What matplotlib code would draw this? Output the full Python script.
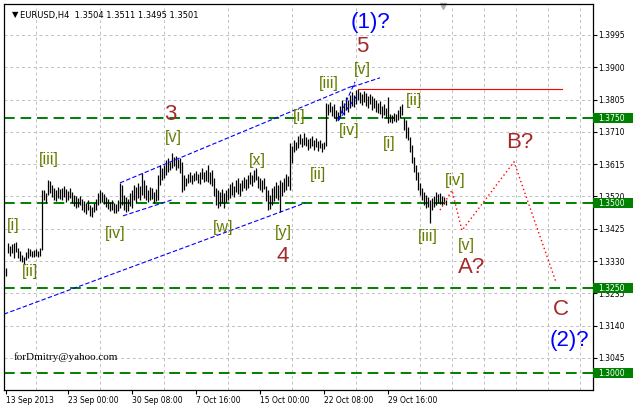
import matplotlib
matplotlib.use('Agg')
import matplotlib.pyplot as plt
from matplotlib.patches import Rectangle

# H4 bars, high / low (EURUSD)
highs = [
    1.3310, 1.3383, 1.3374, 1.3380, 1.3383, 1.3386, 1.3369, 1.3360, 1.3348, 1.3342,
    1.3357, 1.3369, 1.3366, 1.3360, 1.3363, 1.3366, 1.3360, 1.3369, 1.3539, 1.3539,
    1.3530, 1.3569, 1.3566, 1.3554, 1.3545, 1.3539, 1.3548, 1.3542, 1.3545, 1.3551,
    1.3542, 1.3536, 1.3545, 1.3533, 1.3524, 1.3521, 1.3516, 1.3521, 1.3513, 1.3507,
    1.3501, 1.3510, 1.3495, 1.3489, 1.3501, 1.3513, 1.3530, 1.3539, 1.3533, 1.3527,
    1.3518, 1.3513, 1.3504, 1.3510, 1.3501, 1.3498, 1.3510, 1.3560, 1.3554, 1.3524,
    1.3518, 1.3513, 1.3530, 1.3539, 1.3554, 1.3548, 1.3560, 1.3551, 1.3589, 1.3569,
    1.3554, 1.3539, 1.3548, 1.3545, 1.3533, 1.3542, 1.3584, 1.3613, 1.3604, 1.3613,
    1.3627, 1.3633, 1.3621, 1.3648, 1.3636, 1.3639, 1.3630, 1.3633, 1.3621, 1.3584,
    1.3574, 1.3586, 1.3592, 1.3584, 1.3589, 1.3595, 1.3586, 1.3592, 1.3604, 1.3592,
    1.3598, 1.3613, 1.3592, 1.3598, 1.3574, 1.3545, 1.3539, 1.3533, 1.3542, 1.3530,
    1.3539, 1.3545, 1.3557, 1.3563, 1.3551, 1.3569, 1.3574, 1.3560, 1.3569, 1.3577,
    1.3572, 1.3584, 1.3592, 1.3584, 1.3598, 1.3604, 1.3581, 1.3574, 1.3569, 1.3574,
    1.3551, 1.3539, 1.3524, 1.3545, 1.3551, 1.3563, 1.3554, 1.3569, 1.3563, 1.3574,
    1.3586, 1.3581, 1.3677, 1.3668, 1.3686, 1.3680, 1.3698, 1.3704, 1.3692, 1.3707,
    1.3695, 1.3689, 1.3692, 1.3698, 1.3686, 1.3692, 1.3683, 1.3686, 1.3677, 1.3680,
    1.3795, 1.3792, 1.3798, 1.3786, 1.3792, 1.3774, 1.3769, 1.3786, 1.3804, 1.3795,
    1.3813, 1.3804, 1.3818, 1.3827, 1.3818, 1.3833, 1.3836, 1.3827, 1.3821, 1.3830,
    1.3824, 1.3816, 1.3821, 1.3816, 1.3810, 1.3804, 1.3795, 1.3801, 1.3786, 1.3792,
    1.3780, 1.3813, 1.3763, 1.3760, 1.3766, 1.3763, 1.3774, 1.3786, 1.3792, 1.3751,
    1.3745, 1.3724, 1.3695, 1.3671, 1.3636, 1.3613, 1.3592, 1.3560, 1.3545, 1.3533,
    1.3524, 1.3518, 1.3510, 1.3516, 1.3521, 1.3533, 1.3527, 1.3530, 1.3521, 1.3518,
    1.3511,
]
lows = [
    1.3286, 1.3354, 1.3345, 1.3354, 1.3339, 1.3357, 1.3339, 1.3330, 1.3327, 1.3321,
    1.3333, 1.3339, 1.3345, 1.3342, 1.3342, 1.3345, 1.3342, 1.3345, 1.3363, 1.3510,
    1.3501, 1.3524, 1.3530, 1.3518, 1.3510, 1.3507, 1.3516, 1.3513, 1.3510, 1.3518,
    1.3504, 1.3510, 1.3516, 1.3501, 1.3492, 1.3486, 1.3489, 1.3495, 1.3480, 1.3474,
    1.3468, 1.3480, 1.3463, 1.3460, 1.3474, 1.3480, 1.3495, 1.3501, 1.3504, 1.3498,
    1.3489, 1.3483, 1.3477, 1.3480, 1.3471, 1.3471, 1.3477, 1.3486, 1.3495, 1.3480,
    1.3474, 1.3477, 1.3492, 1.3486, 1.3510, 1.3501, 1.3516, 1.3510, 1.3524, 1.3516,
    1.3510, 1.3504, 1.3510, 1.3513, 1.3501, 1.3507, 1.3510, 1.3554, 1.3569, 1.3574,
    1.3584, 1.3592, 1.3598, 1.3604, 1.3610, 1.3598, 1.3604, 1.3589, 1.3533, 1.3539,
    1.3551, 1.3560, 1.3563, 1.3557, 1.3566, 1.3569, 1.3560, 1.3557, 1.3572, 1.3563,
    1.3566, 1.3563, 1.3557, 1.3551, 1.3521, 1.3495, 1.3486, 1.3492, 1.3501, 1.3486,
    1.3504, 1.3510, 1.3516, 1.3524, 1.3518, 1.3533, 1.3527, 1.3521, 1.3536, 1.3545,
    1.3539, 1.3545, 1.3557, 1.3551, 1.3563, 1.3569, 1.3545, 1.3539, 1.3533, 1.3542,
    1.3507, 1.3480, 1.3483, 1.3495, 1.3507, 1.3516, 1.3510, 1.3474, 1.3521, 1.3533,
    1.3539, 1.3551, 1.3539, 1.3618, 1.3651, 1.3657, 1.3663, 1.3674, 1.3666, 1.3671,
    1.3668, 1.3657, 1.3663, 1.3668, 1.3657, 1.3666, 1.3654, 1.3663, 1.3651, 1.3660,
    1.3668, 1.3760, 1.3769, 1.3757, 1.3751, 1.3742, 1.3745, 1.3754, 1.3766, 1.3760,
    1.3774, 1.3769, 1.3780, 1.3786, 1.3783, 1.3792, 1.3804, 1.3795, 1.3789, 1.3798,
    1.3786, 1.3780, 1.3792, 1.3774, 1.3780, 1.3769, 1.3766, 1.3763, 1.3751, 1.3760,
    1.3751, 1.3736, 1.3739, 1.3736, 1.3742, 1.3739, 1.3745, 1.3751, 1.3760, 1.3716,
    1.3692, 1.3686, 1.3651, 1.3618, 1.3592, 1.3569, 1.3539, 1.3524, 1.3510, 1.3495,
    1.3486, 1.3489, 1.3442, 1.3480, 1.3489, 1.3495, 1.3501, 1.3498, 1.3495, 1.3498,
    1.3495,
]

date_bars = [0, 31, 63, 95, 127, 159, 191]
date_labels = ['13 Sep 2013', '23 Sep 00:00', '30 Sep 08:00', '7 Oct 16:00',
               '15 Oct 00:00', '22 Oct 08:00', '29 Oct 16:00']
price_ticks = [1.3995, 1.3900, 1.3805, 1.3710, 1.3615, 1.3520,
               1.3425, 1.3330, 1.3235, 1.3140, 1.3045]
levels = [1.3750, 1.3500, 1.3250, 1.3000]

# top of wave 5 line
top_bars = [176, 278]
top_price = 1.3836

# projected path (red dotted)
path_bars = [217, 223, 228, 254, 275]
path_prices = [1.3480, 1.3538, 1.3420, 1.3622, 1.3268]

# channel / wedge lines: (bar0, price0, bar1, price1)
channel_lines = [
    (-1, 1.3174, 149.5, 1.3501),
    (57, 1.3560, 174.5, 1.3848),
    (58.5, 1.3463, 83, 1.3510),
    (166, 1.3745, 174.5, 1.3857),
    (166, 1.3742, 176, 1.3820),
    (173, 1.3842, 187, 1.3869),
]

# minor wave labels
minor_text = ['[i]', '[ii]', '[iii]', '[iv]', '[v]', '[w]', '[x]', '[y]',
              '[i]', '[ii]', '[iii]', '[iv]', '[v]',
              '[i]', '[ii]', '[iii]', '[iv]', '[v]']
minor_bar = [3.5, 12, 21.5, 54.5, 83.5, 108.5, 125.5, 138.5,
             146.5, 156, 161.5, 171.5, 178,
             191.5, 204, 211, 224.5, 230]
minor_price = [1.3436, 1.3298, 1.3630, 1.3410, 1.3692, 1.3430, 1.3627, 1.3413,
               1.3754, 1.3584, 1.3851, 1.3713, 1.3892,
               1.3677, 1.3801, 1.3401, 1.3566, 1.3377]

# intermediate labels
mid_text = ['3', '4', '5', 'A?', 'B?', 'C']
mid_bar = [82, 138.5, 178, 233, 257, 277.5]
mid_price = [1.3760, 1.3342, 1.3960, 1.3310, 1.3680, 1.3189]

# primary labels
big_text = ['(1)?', '(2)?']
big_bar = [182, 281.5]
big_price = [1.4033, 1.3095]

plt.rcParams['font.family'] = ['Liberation Sans', 'DejaVu Sans']

fig = plt.figure(figsize=(6.34, 4.07), dpi=100)
ax = fig.add_axes([4 / 634, 17 / 407, 589 / 634, 386 / 407])
ax.set_xlim(-1, 293.5)
ax.set_ylim(1.29508, 1.40861)

# grid
ax.set_xticks(date_bars)
ax.set_xticklabels(date_labels, fontsize=5.5, ha='left', family='DejaVu Sans')
ax.set_xticks(range(15, 290, 16), minor=True)
ax.tick_params(axis='x', which='major', length=3, width=0.8, pad=1)
ax.tick_params(axis='x', which='minor', length=0)
ax.grid(True, which='minor', axis='x', color='#c0c0c0', linestyle=(0, (3, 3)), lw=0.7)
ax.yaxis.tick_right()
ax.set_yticks(price_ticks)
ax.set_yticklabels([f'{p:.4f}' for p in price_ticks], fontsize=5.5, family='DejaVu Sans')
ax.tick_params(axis='y', length=3, width=0.8, pad=1)
ax.grid(True, which='major', axis='y', color='#c0c0c0', linestyle=(0, (3, 3)), lw=0.7)
ax.set_axisbelow(True)
for s in ax.spines.values():
    s.set_linewidth(0.9)

# support / resistance levels with price boxes on the axis
ytrans = ax.get_yaxis_transform()
for lv in levels:
    ax.axhline(lv, color='#008000', lw=1.4, linestyle=(0, (5.5, 3)))
    ax.add_patch(Rectangle((1.0, lv - 0.00145), 40 / 589, 0.0029, transform=ytrans,
                           fc='#008000', ec='none', clip_on=False, zorder=5))
    ax.text(1.0 + 5 / 589, lv, f'{lv:.4f}', transform=ytrans, va='center', ha='left',
            fontsize=5.5, family='DejaVu Sans', color='white', clip_on=False, zorder=6)

# bars
ax.vlines(range(len(highs)), lows, highs, colors='black', lw=0.9)

ax.plot(top_bars, [top_price, top_price], color='red', lw=0.8)
ax.plot(path_bars, path_prices, color='red', lw=1.0, linestyle=(0, (1, 2)))
for b0, p0, b1, p1 in channel_lines:
    ax.plot([b0, b1], [p0, p1], color='blue', lw=0.8, linestyle=(0, (4, 2)))

for t, b, p in zip(minor_text, minor_bar, minor_price):
    ax.text(b, p, t, color='#627d00', fontsize=11.5, ha='center', va='center')
for t, b, p in zip(mid_text, mid_bar, mid_price):
    ax.text(b, p, t, color='#a52a2a', fontsize=16, ha='center', va='center')
for t, b, p in zip(big_text, big_bar, big_price):
    ax.text(b, p, t, color='blue', fontsize=16, ha='center', va='center')

ax.text(0.013, 0.965, '\u25bc', transform=ax.transAxes, fontsize=6, family='DejaVu Sans')
ax.text(0.028, 0.965, 'EURUSD,H4  1.3504 1.3511 1.3495 1.3501', transform=ax.transAxes,
        fontsize=6, family='DejaVu Sans')
ax.plot([218.5], [1.4080], marker='v', color='#b0b0b0', ms=5, clip_on=False)
ax.text(4, 1.3040, 'forDmitry@yahoo.com', fontsize=8, family='Liberation Serif')

plt.savefig('out.png', dpi=100)
